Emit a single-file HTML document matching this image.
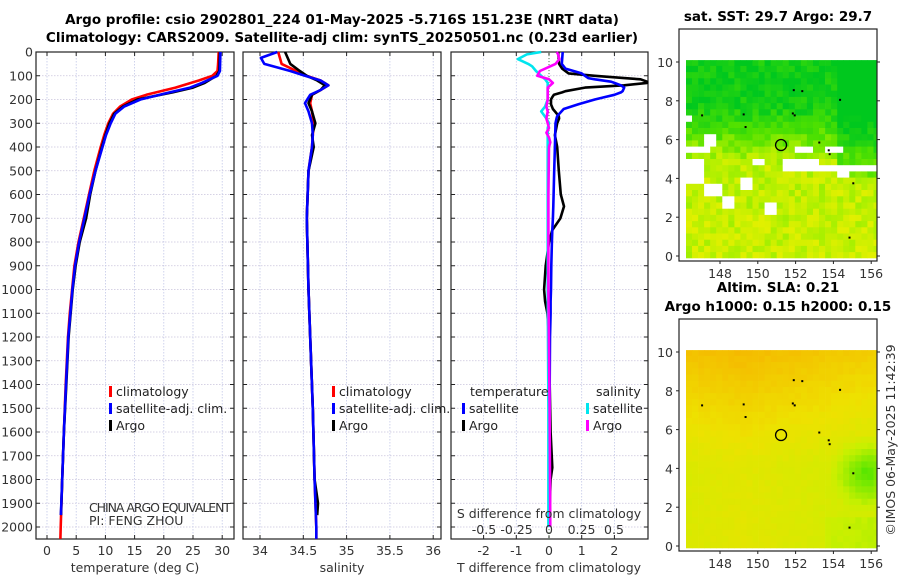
<!DOCTYPE html>
<html><head><meta charset="utf-8"><style>
html,body{margin:0;padding:0;background:#fff;width:900px;height:580px;overflow:hidden}
svg{display:block;font-family:"DejaVu Sans","Liberation Sans",sans-serif}
.t{font-size:12.5px;fill:#333}
.ti{font-size:13.5px;font-weight:bold;fill:#000}
.lg{font-size:12.5px;fill:#222}
</style></head><body>
<svg id="fig" width="900" height="580" viewBox="0 0 900 580">
<text class="ti" x="342" y="24" text-anchor="middle">Argo profile: csio 2902801_224 01-May-2025 -5.716S 151.23E (NRT data)</text>
<text class="ti" x="342" y="42" text-anchor="middle">Climatology: CARS2009. Satellite-adj clim: synTS_20250501.nc (0.23d earlier)</text>
<g id="panels"></g>
<g id="maps"></g>
</svg>
<script>
// ---- data ----
const tDepth = [0,50,80,100,120,150,180,200,230,260,300,350,400,500,600,700,800,900,1000,1100,1200,1400,1600,1800,2000,2050];
const tClim  = [29.4,29.3,29.2,28.3,26,22,17,14.5,12.5,11.3,10.5,9.8,9.2,8.1,7.2,6.3,5.4,4.7,4.3,3.9,3.6,3.2,2.9,2.6,2.35,2.3];
const tArgoD = [0,80,100,130,150,170,200,230,260,300,350,400,500,600,700,800,900,1000,1200,1400,1600,1800,1950];
const tArgo  = [29.6,29.5,29.0,27,25,21.5,15.5,13,11.5,10.7,10,9.4,8.3,7.4,6.7,5.6,4.9,4.4,3.7,3.3,2.9,2.6,2.4];
const tSat   = [29.7,29.6,29.2,26.5,24.5,21,16,13.2,11.7,10.9,10.1,9.5,8.3,7.3,6.4,5.5,4.8,4.35,3.65,3.25,2.9,2.6,2.38];
const sDepth = [0,25,50,80,100,120,140,160,180,215,250,300,350,400,500,700,1000,1200,1500,1800,2000,2050];
const sClim  = [34.21,34.23,34.25,34.42,34.54,34.7,34.79,34.7,34.6,34.58,34.6,34.62,34.61,34.6,34.56,34.54,34.56,34.58,34.61,34.63,34.65,34.65];
const sSat   = [34.2,34.01,34.05,34.35,34.52,34.7,34.79,34.7,34.58,34.52,34.56,34.6,34.61,34.6,34.56,34.54,34.56,34.58,34.61,34.63,34.65,34.65];
const sArgoD = [0,50,80,100,120,140,160,180,215,250,300,350,400,500,700,1000,1200,1500,1800,1900,1950];
const sArgo  = [34.29,34.35,34.46,34.54,34.66,34.75,34.7,34.6,34.56,34.6,34.64,34.6,34.62,34.56,34.54,34.56,34.58,34.61,34.63,34.67,34.66];
const dDepth = [0,50,70,90,100,110,115,125,130,140,150,165,170,180,190,200,220,240,270,280,300,350,400,500,600,650,700,750,800,900,1000,1050,1100,1200,1400,1600,1750,1800,2000];
const dTArgo = [0.28,0.31,0.4,0.6,1.4,2.3,2.8,3.0,3.0,2.3,1.1,0.5,0.4,0.15,0.1,0.06,0.06,0.12,0.3,0.31,0.25,0.18,0.25,0.3,0.36,0.46,0.35,0.1,0.0,-0.1,-0.15,-0.12,-0.05,0,0.02,0.05,0.1,0.05,0.0];
const dTSat  = [0.42,0.39,0.5,1.0,1.1,1.2,1.4,1.9,2.0,2.2,2.3,2.25,2.2,2.0,1.7,1.4,0.9,0.45,0.25,0.23,0.2,0.19,0.18,0.16,0.14,0.13,0.12,0.1,0.09,0.07,0.06,0.05,0.05,0.03,0.02,0.02,0.01,0.01,0.0];
const sdDepth= [0,10,30,50,60,80,100,115,130,150,200,230,250,280,300,320,340,360,380,400,600,1000,1500,2000];
const dSArgo = [0.06,0.07,0.08,0.05,0.01,-0.07,-0.09,0.0,0.03,-0.01,-0.01,-0.02,-0.01,-0.02,-0.01,-0.0,-0.02,0.0,0.01,0.0,-0.005,-0.005,0.005,0.01];
const dSSat  = [-0.06,-0.17,-0.24,-0.16,-0.13,-0.1,-0.06,-0.03,-0.01,-0.01,-0.01,-0.03,-0.06,-0.02,0.0,-0.01,-0.01,-0.01,-0.01,-0.01,-0.01,-0.01,-0.005,-0.005];
const depthTicks = [0,100,200,300,400,500,600,700,800,900,1000,1100,1200,1300,1400,1500,1600,1700,1800,1900,2000];
const tTicks = [0,5,10,15,20,25,30];
const sTicks = [34,34.5,35,35.5,36];
const sTickLabels = ["34","34.5","35","35.5","36"];
const dTTicks = [-2,-1,0,1,2];
const dSTicks = [-0.5,-0.25,0,0.25,0.5];
const dSTickLabels = ["-0.5","-0.25","0","0.25","0.5"];
const mapLonTicks = [148,150,152,154,156];
const mapLatTicks = [0,2,4,6,8,10];

// ---- scales ----
const NS="http://www.w3.org/2000/svg";
const Y=d=>52+d*0.2375;
const TX=t=>47+t*5.84;
const SX=s=>260+(s-34)*86.6;
const DTX=v=>549+v*32.7;
const DSX=v=>549+v*130;
function el(tag,attrs,parent,txt){const e=document.createElementNS(NS,tag);for(const k in attrs)e.setAttribute(k,attrs[k]);if(txt!==undefined)e.textContent=txt;parent.appendChild(e);return e;}
const P=document.getElementById('panels');
const TOP=52,BOT=539;
function panel(x0,x1,xgrid,name){
  const g=el('g',{},P);
  
  
  depthTicks.forEach(d=>{el('line',{x1:x0,x2:x1,y1:Y(d),y2:Y(d),stroke:'#c9c3dc','stroke-width':0.8,'stroke-dasharray':'1.5,1.5'},g);
    el('line',{x1:x0,x2:x0+4,y1:Y(d),y2:Y(d),stroke:'#222'},g);el('line',{x1:x1-4,x2:x1,y1:Y(d),y2:Y(d),stroke:'#222'},g);});
  xgrid.forEach(x=>{el('line',{x1:x,x2:x,y1:TOP,y2:BOT,stroke:'#c3c8e8','stroke-width':0.8,'stroke-dasharray':'1.5,1.5'},g);
    el('line',{x1:x,x2:x,y1:TOP,y2:TOP+4,stroke:'#222'},g);el('line',{x1:x,x2:x,y1:BOT-4,y2:BOT,stroke:'#222'},g);});
  el('rect',{x:x0,y:TOP,width:x1-x0,height:BOT-TOP,fill:'none',stroke:'#222','stroke-width':1.2},g);
  return g;
}
function line(g,xs,ds,sx,color,name,w){
  const p=el('polyline',{points:xs.map((v,i)=>sx(v).toFixed(1)+','+Y(ds[i]).toFixed(1)).join(' '),fill:'none',stroke:color,'stroke-width':w||2.6,'stroke-linejoin':'round'},g);
  
  
}
function legend(g,x,y,color,label,name){
  el('rect',{x:x,y:y-10,width:3,height:11,fill:color},g);
  const t=el('text',{x:x+7,y:y,class:'lg'},g,label);
  
  
}
const yl=el('g',{},P);


depthTicks.forEach(d=>el('text',{x:33,y:Y(d)+4.5,'text-anchor':'end',class:'t'},yl,String(d)));

const g1=panel(36,234,tTicks.map(TX),'temperature-panel');
line(g1,tClim,tDepth,TX,'#ff0000','climatology-temperature-line');
line(g1,tArgo,tArgoD,TX,'#000','argo-temperature-line');
line(g1,tSat,tArgoD,TX,'#0000ff','satellite-temperature-line');
tTicks.forEach(t=>el('text',{x:TX(t),y:555,'text-anchor':'middle',class:'t'},g1,String(t)));
el('text',{x:135,y:572,'text-anchor':'middle',class:'t','font-size':'13'},g1,'temperature (deg C)');
legend(g1,109,396,'#ff0000','climatology','legend-climatology');
legend(g1,109,413,'#0000ff','satellite-adj. clim.','legend-satellite');
legend(g1,109,430,'#000','Argo','legend-argo');
el('text',{x:89,y:512,class:'t','font-size':'11','textLength':142},g1,'CHINA ARGO EQUIVALENT');
el('text',{x:89,y:525,class:'t','font-size':'11'},g1,'PI: FENG ZHOU');

const g2=panel(243,441,sTicks.map(SX),'salinity-panel');
line(g2,sClim,sDepth,SX,'#ff0000','climatology-salinity-line');
line(g2,sArgo,sArgoD,SX,'#000','argo-salinity-line');
line(g2,sSat,sDepth,SX,'#0000ff','satellite-salinity-line');
sTicks.forEach((s,i)=>el('text',{x:SX(s),y:555,'text-anchor':'middle',class:'t'},g2,sTickLabels[i]));
el('text',{x:342,y:572,'text-anchor':'middle',class:'t','font-size':'13'},g2,'salinity');
legend(g2,332,396,'#ff0000','climatology','legend2-climatology');
legend(g2,332,413,'#0000ff','satellite-adj. clim.','legend2-satellite');
legend(g2,332,430,'#000','Argo','legend2-argo');

const g3=panel(451,648,dTTicks.map(DTX),'difference-panel');
el('line',{x1:DTX(0),x2:DTX(0),y1:TOP,y2:BOT,stroke:'#557755','stroke-width':1,'stroke-dasharray':'1,2'},g3);
line(g3,dTArgo,dDepth,DTX,'#000','argo-t-diff-line');
line(g3,dTSat,dDepth,DTX,'#0000ff','satellite-t-diff-line');
line(g3,dSSat,sdDepth,DSX,'#00e5ee','satellite-s-diff-line');
line(g3,dSArgo,sdDepth,DSX,'#ff00ff','argo-s-diff-line');
dTTicks.forEach(t=>el('text',{x:DTX(t),y:555,'text-anchor':'middle',class:'t'},g3,String(t)));
dSTicks.forEach((s,i)=>el('text',{x:DSX(s),y:534,'text-anchor':'middle',class:'t','font-size':'12.5'},g3,dSTickLabels[i]));
el('text',{x:549,y:518,'text-anchor':'middle',class:'t','font-size':'13'},g3,'S difference from climatology');
el('text',{x:549,y:572,'text-anchor':'middle',class:'t','font-size':'13'},g3,'T difference from climatology');
el('text',{x:470,y:396,class:'lg'},g3,'temperature');
el('text',{x:596,y:396,class:'lg'},g3,'salinity');
legend(g3,462,413,'#0000ff','satellite','legend3-t-satellite');
legend(g3,462,430,'#000','Argo','legend3-t-argo');
legend(g3,586,413,'#00e5ee','satellite','legend3-s-satellite');
legend(g3,586,430,'#ff00ff','Argo','legend3-s-argo');

// ---- maps ----
const M=document.getElementById('maps');
const LX=l=>720+(l-148)*18.9;
function hash(i,j,s){let h=(i*374761393+j*668265263+s*2147483647)|0;h=(h^(h>>>13))*1274126177|0;return ((h^(h>>>16))>>>0)/4294967296;}
function lerpC(stops,v){v=Math.max(0,Math.min(1,v));for(let k=1;k<stops.length;k++){if(v<=stops[k][0]){const a=stops[k-1],b=stops[k],f=(v-a[0])/(b[0]-a[0]);return 'rgb('+[1,2,3].map(c=>Math.round(a[c]+(b[c]-a[c])*f)).join(',')+')';}}const l=stops[stops.length-1];return 'rgb('+l[1]+','+l[2]+','+l[3]+')';}
const sstStops=[[0,0,200,30],[0.45,80,225,0],[0.75,170,240,0],[1,225,240,0]];
const slaStops=[[0,90,230,0],[0.4,200,240,0],[0.7,238,225,0],[1,245,185,0]];
const gaps=[[146.2,147.6,5.2,5.6],[146.2,147.2,3.6,5.0],[147.2,148.0,3.0,3.6],[148.0,148.6,2.6,3.0],[149.0,149.7,3.4,4.2],[150.3,151.0,2.0,2.9],[149.8,150.4,4.6,5.0],[151.3,153.3,4.3,5.0],[152.0,152.9,5.2,5.6],[153.3,156.6,4.4,4.8],[153.6,154.5,5.3,5.7],[147.0,147.8,5.8,6.2],[148.6,148.9,6.9,7.1],[146.2,146.4,7.1,7.3],[154.2,154.8,4.0,4.4]];
function map(top,lat0y,name,title,kind){
  const g=el('g',{},M);
  
  
  const LY=lat=>lat0y-lat*19.4;
  const cs=0.32;
  for(let i=0;146.2+i*cs<156.7;i++)for(let j=0;-0.1+j*cs<10.1;j++){
    const lon=146.2+i*cs,lat=-0.1+j*cs;
    let v;
    if(kind==='sst'){
      v=Math.max(0,Math.min(1,(7.6-lat)/3))*0.75+hash(i,j,1)*0.3-0.05;
      if(lon>154&&lat>3.8)v-=0.35;
      if(lat<2)v+=0.05*hash(i,j,2);
    }else{
      v=0.58+Math.max(0,(lat-4))*0.065-Math.abs(lon-149)*0.02+hash(i,j,3)*0.05;
      const dg=Math.hypot(lon-155.6,lat-3.6);if(dg<2)v-=(2-dg)*0.25;
      if(lon>153.5&&lat<1.5)v-=0.1;
    }
    let c=kind==='sst'?lerpC(sstStops,v):lerpC(slaStops,v);
    if(kind==='sst'&&gaps.some(q=>lon+cs/2>=q[0]&&lon+cs/2<=q[1]&&lat+cs/2>=q[2]&&lat+cs/2<=q[3]))c='#fff';
    const x0=LX(lon),x1=Math.min(LX(lon+cs),877),y0=Math.max(LY(lat+cs),LY(10.1)),y1=LY(lat);
    el('rect',{x:x0.toFixed(1),y:y0.toFixed(1),width:(x1-x0+0.4).toFixed(1),height:(y1-y0+0.4).toFixed(1),fill:c},g);
  }
  [[147,7.3],[149.2,7.35],[149.3,6.7],[151.8,7.4],[151.9,7.3],[151.85,8.6],[152.3,8.55],[154.3,8.1],[153.2,5.9],[153.7,5.5],[153.75,5.3],[155,3.8],[154.8,1]].forEach(p=>el('rect',{x:LX(p[0]),y:LY(p[1]),width:2,height:2,fill:'#000'},g));
  el('circle',{cx:LX(151.23),cy:LY(5.72),r:5.5,fill:'none',stroke:'#000','stroke-width':1.3},g);
  el('rect',{x:679,y:top,width:198,height:lat0y+5-top,fill:'none',stroke:'#222','stroke-width':1.2},g);
  const bot=lat0y+5;
  mapLatTicks.forEach(l=>{el('line',{x1:676,x2:679,y1:LY(l),y2:LY(l),stroke:'#222'},g);el('line',{x1:877,x2:880,y1:LY(l),y2:LY(l),stroke:'#222'},g);
    el('text',{x:673,y:LY(l)+5,'text-anchor':'end',class:'t','font-size':'13'},g,String(l));});
  mapLonTicks.forEach(l=>{el('line',{x1:LX(l),x2:LX(l),y1:bot,y2:bot+3,stroke:'#222'},g);
    el('text',{x:LX(l),y:bot+17,'text-anchor':'middle',class:'t','font-size':'13'},g,String(l));});
  title.forEach((t,k)=>el('text',{x:778,y:top-8-(title.length-1-k)*19,'text-anchor':'middle',class:'ti','font-size':'13'},g,t));
}
map(29,256,'sst-map',['sat. SST: 29.7 Argo: 29.7'],'sst');
map(319,546,'sla-map',['Altim. SLA: 0.21','Argo h1000: 0.15 h2000: 0.15'],'sla');
el('text',{x:895,y:440,transform:'rotate(-90 895 440)','text-anchor':'middle',class:'t','font-size':'13'},M,'©IMOS 06-May-2025 11:42:39');
</script>
</body></html>
